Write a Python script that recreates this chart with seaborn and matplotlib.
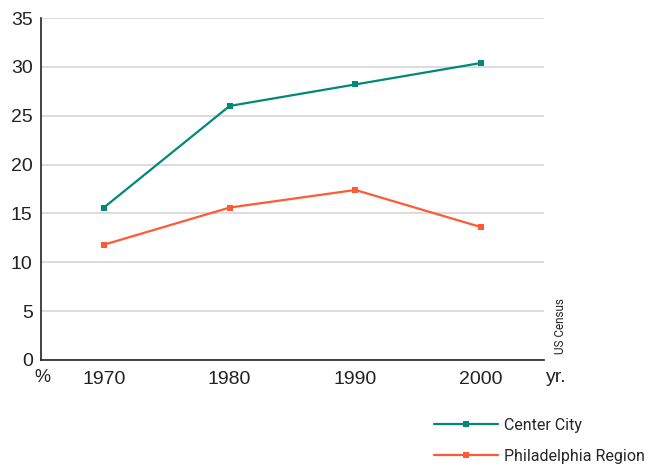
import pandas as pd
import matplotlib.pyplot as plt
import seaborn as sns
from matplotlib.ticker import FixedLocator

years = ['1970', '1980', '1990', '2000']
center_city = [15.6, 26.0, 28.2, 30.4]
philly_region = [11.8, 15.6, 17.4, 13.6]

df = pd.DataFrame({
    'year': years * 2,
    'pct': center_city + philly_region,
    'area': ['Center City'] * 4 + ['Philadelphia Region'] * 4,
})

sns.set_style('white')
plt.rcParams['font.family'] = ['Liberation Sans', 'DejaVu Sans']

fig = plt.figure(figsize=(6.63, 4.66), dpi=100)
ax = fig.add_axes([41 / 663, 1 - 360 / 466, 503 / 663, 342 / 466])

sns.lineplot(data=df, x='year', y='pct', hue='area', style='area',
             palette={'Center City': '#00897b', 'Philadelphia Region': '#ff5a36'},
             markers={'Center City': 's', 'Philadelphia Region': 's'},
             dashes=False, markersize=5, markeredgewidth=0, linewidth=1.6,
             ax=ax, legend=True)

ax.set_xlim(-0.5, 3.5)
ax.set_ylim(0, 35)
ax.set_yticks(range(0, 36, 5))
ax.yaxis.grid(True, color='#d6d6d6', linewidth=1.2)
ax.set_axisbelow(True)
for s in ['top', 'right']:
    ax.spines[s].set_visible(False)
ax.spines['left'].set_color('#222222')
ax.spines['bottom'].set_color('#222222')
ax.spines['left'].set_linewidth(1.2)
ax.spines['bottom'].set_linewidth(1.2)

ax.tick_params(axis='y', length=0, labelsize=14, pad=6, colors='#222222')
ax.tick_params(axis='x', which='major', length=0, labelsize=14, pad=8, colors='#222222')
ax.xaxis.set_minor_locator(FixedLocator([0.5, 1.5, 2.5, 3.5]))
ax.tick_params(axis='x', which='minor', direction='in', length=8, width=1.2, color='#222222')
ax.set_xlabel('')
ax.set_ylabel('')

fig.text(34 / 663, 1 - 377 / 466, '%', fontsize=13, ha='left', va='center', color='#222222')
fig.text(546 / 663, 1 - 378 / 466, 'yr.', fontsize=14, ha='left', va='center', color='#222222')
fig.text(560 / 663, 1 - 326 / 466, 'US Census', fontsize=8.5, rotation=90,
         ha='center', va='center', color='#222222', family=['Roboto', 'DejaVu Sans'])

handles, labels = ax.get_legend_handles_labels()
ax.legend(handles, labels, loc='center left', bbox_to_anchor=(426 / 663, 1 - 441 / 466),
          bbox_transform=fig.transFigure, frameon=False, handlelength=4.0,
          labelspacing=1.0, handletextpad=0.4, borderpad=0,
          prop={'family': ['Roboto', 'DejaVu Sans'], 'size': 11.5})

fig.savefig('out.png', dpi=100)
